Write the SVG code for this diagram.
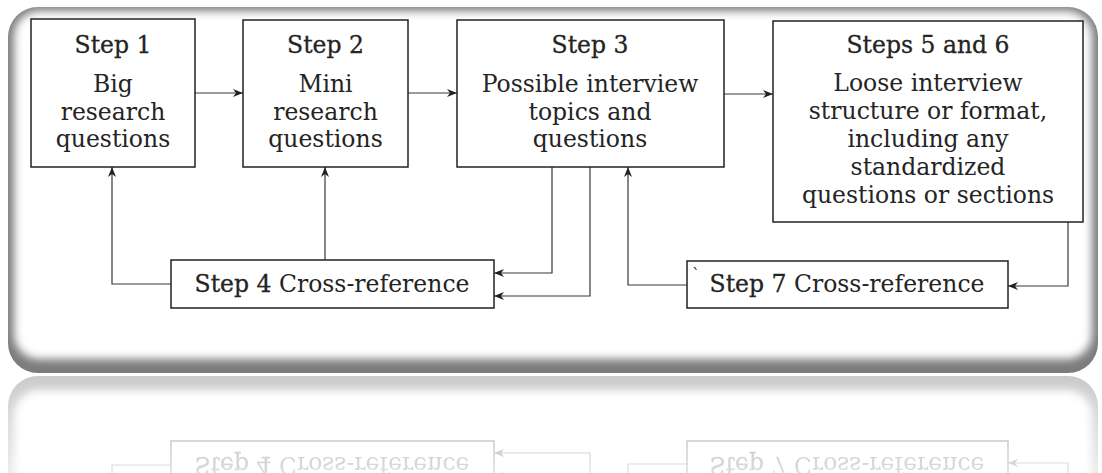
<svg xmlns="http://www.w3.org/2000/svg" xmlns:xlink="http://www.w3.org/1999/xlink" width="1102" height="473" viewBox="0 0 1102 473">
  <style>
    .box { fill: #fff; stroke: #222; stroke-width: 1.5; }
    .lbl { font-family: "DejaVu Serif", "Liberation Serif", serif; font-size: 23.5px; fill: #242424; text-anchor: middle; }
    .ttl { stroke: #242424; stroke-width: 0.3; }
    .wire { fill: none; stroke: #383838; stroke-width: 1.2; }
  </style>
  <defs>
    <marker id="arrow" viewBox="0 0 10 8" refX="10" refY="4" markerWidth="10" markerHeight="8" markerUnits="userSpaceOnUse" orient="auto">
      <path d="M0,0 L10,4 L0,8 L3,4 Z" fill="#222"/>
    </marker>
    <clipPath id="frameClip">
      <rect x="8" y="7" width="1090" height="366" rx="30"/>
    </clipPath>
    <filter id="soft" x="-5%" y="-10%" width="110%" height="120%">
      <feGaussianBlur stdDeviation="4.5"/>
    </filter>
    <linearGradient id="fade" gradientUnits="userSpaceOnUse" x1="0" y1="376" x2="0" y2="473">
      <stop offset="0" stop-color="#fff" stop-opacity="0.4"/>
      <stop offset="1" stop-color="#fff" stop-opacity="0.16"/>
    </linearGradient>
    <mask id="reflMask" maskUnits="userSpaceOnUse" x="0" y="374" width="1102" height="99">
      <rect x="0" y="374" width="1102" height="99" fill="url(#fade)"/>
    </mask>
  </defs>

  <rect width="1102" height="473" fill="#fff"/>

  <g id="diagram">
    <!-- panel with soft bevelled edge -->
    <g id="frame" clip-path="url(#frameClip)">
      <rect x="8" y="7" width="1090" height="366" fill="#7c7c7c"/>
      <rect x="14" y="11" width="1078" height="348" rx="25" fill="#fff" filter="url(#soft)"/>
    </g>

    <g id="connectors">
      <!-- forward chain -->
      <line class="wire" x1="195" y1="93" x2="243" y2="93" marker-end="url(#arrow)"/>
      <line class="wire" x1="408" y1="93" x2="457" y2="93" marker-end="url(#arrow)"/>
      <line class="wire" x1="724" y1="94" x2="773" y2="94" marker-end="url(#arrow)"/>
      <!-- step 4 feedback -->
      <polyline class="wire" points="171,284 112,284 112,167" marker-end="url(#arrow)"/>
      <line class="wire" x1="325" y1="260" x2="325" y2="167" marker-end="url(#arrow)"/>
      <polyline class="wire" points="552,167 552,273 494,273" marker-end="url(#arrow)"/>
      <polyline class="wire" points="590,167 590,296 494,296" marker-end="url(#arrow)"/>
      <!-- step 7 feedback -->
      <polyline class="wire" points="687,285 628,285 628,167" marker-end="url(#arrow)"/>
      <polyline class="wire" points="1068,222 1068,286 1008,286" marker-end="url(#arrow)"/>
    </g>

    <g id="step1">
      <rect class="box" x="31" y="19" width="164" height="148"/>
      <text class="lbl ttl" x="113" y="53">Step 1</text>
      <text class="lbl" x="113" y="92">Big</text>
      <text class="lbl" x="113" y="120">research</text>
      <text class="lbl" x="113" y="147">questions</text>
    </g>

    <g id="step2">
      <rect class="box" x="243" y="20" width="165" height="147"/>
      <text class="lbl ttl" x="325.5" y="53">Step 2</text>
      <text class="lbl" x="325.5" y="92">Mini</text>
      <text class="lbl" x="325.5" y="120">research</text>
      <text class="lbl" x="325.5" y="147">questions</text>
    </g>

    <g id="step3">
      <rect class="box" x="457" y="20" width="267" height="147"/>
      <text class="lbl ttl" x="590" y="53">Step 3</text>
      <text class="lbl" x="590" y="92">Possible interview</text>
      <text class="lbl" x="590" y="120">topics and</text>
      <text class="lbl" x="590" y="147">questions</text>
    </g>

    <g id="steps5and6">
      <rect class="box" x="773" y="21" width="310" height="201"/>
      <text class="lbl ttl" x="928" y="53">Steps 5 and 6</text>
      <text class="lbl" x="928" y="91">Loose interview</text>
      <text class="lbl" x="928" y="119">structure or format,</text>
      <text class="lbl" x="928" y="147">including any</text>
      <text class="lbl" x="928" y="175">standardized</text>
      <text class="lbl" x="928" y="203">questions or sections</text>
    </g>

    <g id="step4">
      <rect class="box" x="171" y="260" width="323" height="48"/>
      <text class="lbl" x="332" y="292"><tspan class="ttl">Step 4</tspan> Cross-reference</text>
    </g>

    <g id="step7">
      <rect class="box" x="687" y="261" width="321" height="47"/>
      <text class="lbl" x="696" y="280" style="font-size:16px">`</text>
      <text class="lbl" x="847" y="292"><tspan class="ttl">Step 7</tspan> Cross-reference</text>
    </g>
  </g>

  <!-- mirrored floor reflection -->
  <g mask="url(#reflMask)">
    <use xlink:href="#diagram" transform="translate(0,749) scale(1,-1)"/>
  </g>
</svg>
